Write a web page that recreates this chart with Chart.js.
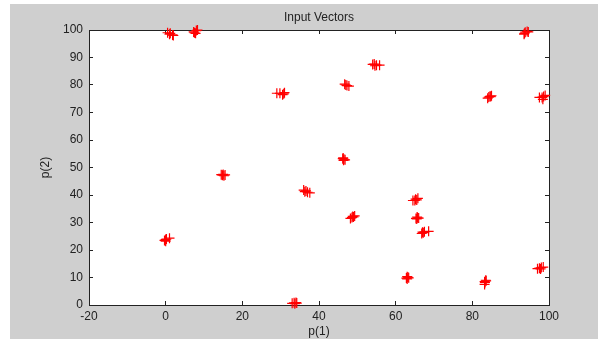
<!DOCTYPE html>
<html>
<head>
<meta charset="utf-8">
<script src="https://cdn.jsdelivr.net/npm/chart.js@4.4.1/dist/chart.umd.min.js"></script>
<style>
  html, body { margin: 0; padding: 0; background: #ffffff; }
  #wrap { position: relative; width: 598px; height: 339px; }
</style>
</head>
<body>
<div id="wrap"><canvas id="c" width="598" height="339"></canvas></div>
<script>
const titleText = 'Input Vectors';
const xLabel = 'p(1)';
const yLabel = 'p(2)';
const xTicks = [-20, 0, 20, 40, 60, 80, 100];
const yTicks = [0, 10, 20, 30, 40, 50, 60, 70, 80, 90, 100];

// p(1) and p(2) of each input vector, grouped by cluster
const p1 = [
  0.5, 1.0, 1.8, 1.2, 2.0,
  7.5, 8.0, 8.3, 7.8, 7.3,
  29.0, 29.8, 30.8, 31.0, 30.5,
  46.7, 47.3, 47.8, 47.0,
  54.0, 54.6, 55.0, 55.8, 54.4,
  93.5, 93.8, 94.3, 94.6, 93.6,
  84.0, 84.3, 84.6, 85.0, 84.8,
  97.5, 98.2, 98.6, 99.0, 98.4,
  46.3, 46.5, 46.4, 46.8, 46.2,
  14.5, 15.0, 15.2, 14.8, 15.5,
  36.0, 36.3, 37.0, 37.6, 36.6,
  64.5, 65.0, 65.5, 65.8, 65.2,
  48.2, 48.6, 49.0, 49.3, 48.8,
  65.3, 65.7, 66.0, 65.6, 65.5,
  66.8, 67.2, 67.5, 68.6, 67.0,
  -0.3, 0.0, 0.2, 1.0, 0.0,
  62.8, 63.2, 63.0, 63.4, 63.0,
  83.2, 83.3, 83.5, 83.6, 83.2,
  97.0, 97.5, 98.0, 98.5, 97.8,
  33.0, 33.5, 34.0, 33.7, 34.2
];
const p2 = [
  99.0, 98.5, 98.2, 98.8, 98.0,
  99.0, 99.8, 100.0, 98.8, 99.3,
  77.0, 77.0, 76.8, 77.2, 76.5,
  80.3, 79.8, 79.6, 80.0,
  87.5, 87.0, 87.2, 87.2, 87.6,
  98.5, 99.2, 99.5, 99.3, 98.8,
  75.2, 75.6, 75.9, 76.1, 75.8,
  75.5, 75.5, 75.8, 76.2, 74.8,
  53.5, 53.0, 52.6, 52.8, 53.2,
  47.4, 47.5, 47.0, 47.2, 47.3,
  41.8, 41.2, 41.0, 40.8, 41.5,
  38.0, 38.0, 38.2, 38.8, 38.5,
  31.5, 31.8, 32.0, 32.4, 32.2,
  31.5, 31.7, 31.6, 32.0, 31.3,
  26.0, 26.3, 26.6, 26.8, 26.5,
  23.5, 23.8, 24.0, 24.3, 23.2,
  9.8, 10.1, 10.3, 9.9, 9.5,
  7.5, 8.2, 9.0, 8.8, 8.5,
  13.2, 13.4, 13.6, 13.8, 13.1,
  0.6, 0.8, 0.9, 0.5, 0.7
];

const points = p1.map((x, i) => ({ x, y: p2[i] }));

const textColor = '#222222';
const axisColor = '#222222';
const fontFamily = 'Arial, "Liberation Sans", Helvetica, sans-serif';
const labelFont = { family: fontFamily, size: 12 };

const background = {
  id: 'background',
  beforeDraw(chart) {
    const { ctx, chartArea } = chart;
    ctx.save();
    ctx.fillStyle = '#cfcfcf';
    ctx.fillRect(10, 4, chart.width - 10, chart.height - 4);
    ctx.fillStyle = '#ffffff';
    ctx.fillRect(chartArea.left, chartArea.top,
      chartArea.right - chartArea.left, chartArea.bottom - chartArea.top);
    ctx.restore();
  }
};

function fixedTicks(values) {
  return function (scale) {
    scale.ticks = values.map(v => ({ value: v }));
  };
}

const tickGrid = {
  drawOnChartArea: false,
  drawTicks: true,
  tickLength: -4,
  color: axisColor,
  lineWidth: 1
};

new Chart(document.getElementById('c'), {
  type: 'scatter',
  data: {
    datasets: [{
      data: points,
      pointStyle: 'cross',
      pointRadius: 5,
      pointHoverRadius: 5,
      borderColor: '#ff0000',
      backgroundColor: '#ff0000',
      borderWidth: 1.2,
      clip: 8
    }]
  },
  plugins: [background],
  options: {
    responsive: false,
    animation: false,
    events: [],
    layout: { padding: { left: 10, right: 49, top: 0, bottom: 0 } },
    plugins: {
      legend: { display: false },
      tooltip: { enabled: false },
      title: { display: false }
    },
    scales: {
      x: {
        type: 'linear',
        position: 'bottom',
        min: -20, max: 100,
        afterBuildTicks: fixedTicks(xTicks),
        afterFit(scale) { scale.height = 34; },
        grid: tickGrid,
        border: { color: axisColor, width: 1 },
        ticks: { color: textColor, padding: 8, font: labelFont },
        title: {
          display: true,
          text: xLabel,
          color: textColor,
          padding: { top: 0, bottom: 0 },
          font: labelFont
        }
      },
      x2: {
        type: 'linear',
        position: 'top',
        min: -20, max: 100,
        afterBuildTicks: fixedTicks(xTicks),
        afterFit(scale) { scale.height = 30; },
        grid: tickGrid,
        border: { color: axisColor, width: 1 },
        ticks: { display: false },
        title: {
          display: true,
          text: titleText,
          color: textColor,
          padding: { top: 10, bottom: 0 },
          font: labelFont
        }
      },
      y: {
        type: 'linear',
        position: 'left',
        min: 0, max: 100,
        afterBuildTicks: fixedTicks(yTicks),
        afterFit(scale) { scale.width = 79; },
        grid: tickGrid,
        border: { color: axisColor, width: 1 },
        ticks: { color: textColor, padding: 10, font: labelFont },
        title: {
          display: true,
          text: yLabel,
          color: textColor,
          padding: { top: 28, bottom: 0 },
          font: labelFont
        }
      },
      y2: {
        type: 'linear',
        position: 'right',
        min: 0, max: 100,
        afterBuildTicks: fixedTicks(yTicks),
        afterFit(scale) { scale.width = 0; },
        grid: tickGrid,
        border: { color: axisColor, width: 1 },
        ticks: { display: false }
      }
    }
  }
});
</script>
</body>
</html>
